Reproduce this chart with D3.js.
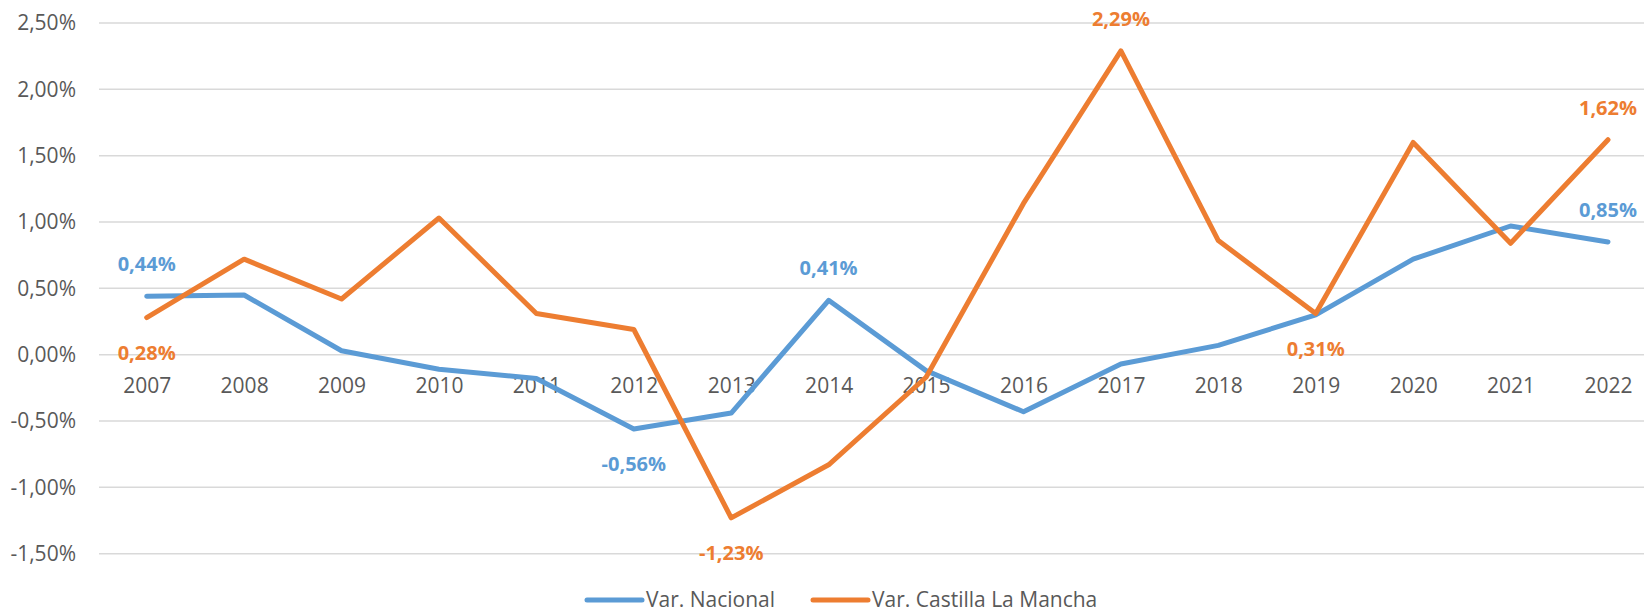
<!DOCTYPE html>
<html>
<head>
<meta charset="utf-8">
<script src="https://cdn.jsdelivr.net/npm/d3@7"></script>
<style>
  html, body { margin: 0; padding: 0; background: #fff; }
  svg { display: block; font-family: "Open Sans", sans-serif; }
</style>
</head>
<body>
<svg id="chart" width="1644" height="614"></svg>
<script>
// ---- Data ----
const years = ["2007","2008","2009","2010","2011","2012","2013","2014","2015","2016","2017","2018","2019","2020","2021","2022"];
const nacional = [0.44, 0.45, 0.03, -0.11, -0.18, -0.56, -0.44, 0.41, -0.12, -0.43, -0.07, 0.07, 0.30, 0.72, 0.97, 0.85];
const castilla = [0.28, 0.72, 0.42, 1.03, 0.31, 0.19, -1.23, -0.83, -0.17, 1.14, 2.29, 0.86, 0.31, 1.60, 0.84, 1.62];
const yTicks = [-1.5, -1.0, -0.5, 0, 0.5, 1.0, 1.5, 2.0, 2.5];
const seriesNames = ["Var. Nacional", "Var. Castilla La Mancha"];
// labels shown: [seriesIndex, yearIndex, position]
const shownLabels = [
  [0, 0, "above"], [1, 0, "below"], [0, 5, "below"], [1, 6, "below"],
  [0, 7, "above"], [1, 10, "above"], [1, 12, "below"], [1, 15, "above"], [0, 15, "above"]
];

// ---- Layout ----
const colors = ["#5B9BD5", "#ED7D31"];
const svg = d3.select("#chart");
const plotLeft = 99, plotRight = 1644;
const y = d3.scaleLinear().domain([-1.5, 2.5]).range([553.7, 23]);
const x = d3.scalePoint().domain(years).range([146.7, 1608]);
const fmt = v => (v.toFixed(2).replace(".", ",")) + "%";

// gridlines
svg.append("g").selectAll("line").data(yTicks).join("line")
  .attr("x1", plotLeft).attr("x2", plotRight)
  .attr("y1", d => y(d)).attr("y2", d => y(d))
  .attr("stroke", "#D9D9D9").attr("stroke-width", 1.5);

// y axis labels
const yAxis = d3.axisLeft(y).tickValues(yTicks).tickFormat(fmt).tickSize(0).tickPadding(0);
const gy = svg.append("g").attr("transform", "translate(76,0)").call(yAxis);
gy.select(".domain").remove();
gy.selectAll("text").attr("fill", "#595959").style("font-size", "21px")
  .style("font-family", "'Open Sans', sans-serif");

// x axis labels (at zero line)
const xAxis = d3.axisBottom(x).tickSize(0).tickPadding(0);
const gx = svg.append("g").attr("transform", `translate(0,${y(0)})`).call(xAxis);
gx.select(".domain").remove();
gx.selectAll("text").attr("fill", "#595959").style("font-size", "21px")
  .style("font-family", "'Open Sans', sans-serif")
  .attr("dy", null).attr("y", 38);

// lines
const line = d3.line().x((d, i) => x(years[i])).y(d => y(d));
[nacional, castilla].forEach((s, k) => {
  svg.append("path").datum(s)
    .attr("d", line)
    .attr("fill", "none")
    .attr("stroke", colors[k])
    .attr("stroke-width", 5)
    .attr("stroke-linejoin", "round")
    .attr("stroke-linecap", "round");
});

// data labels
const series = [nacional, castilla];
svg.append("g").selectAll("text").data(shownLabels).join("text")
  .attr("x", d => x(years[d[1]]))
  .attr("y", d => y(series[d[0]][d[1]]) + (d[2] === "above" ? -32 : 35))
  .attr("dy", "0.35em")
  .attr("text-anchor", "middle")
  .attr("fill", d => colors[d[0]])
  .style("font-size", "20px")
  .style("font-weight", "bold")
  .text(d => fmt(series[d[0]][d[1]]));

// legend
const legendY = 600;
const legendItems = [{x: 587, w: 55}, {x: 813, w: 55}];
const lg = svg.append("g");
seriesNames.forEach((name, k) => {
  const it = legendItems[k];
  lg.append("line")
    .attr("x1", it.x).attr("x2", it.x + it.w)
    .attr("y1", legendY).attr("y2", legendY)
    .attr("stroke", colors[k]).attr("stroke-width", 5).attr("stroke-linecap", "round");
  lg.append("text")
    .attr("x", it.x + it.w + 4).attr("y", legendY).attr("dy", "0.35em")
    .attr("fill", "#595959").style("font-size", "21px")
    .text(name);
});
</script>
</body>
</html>
